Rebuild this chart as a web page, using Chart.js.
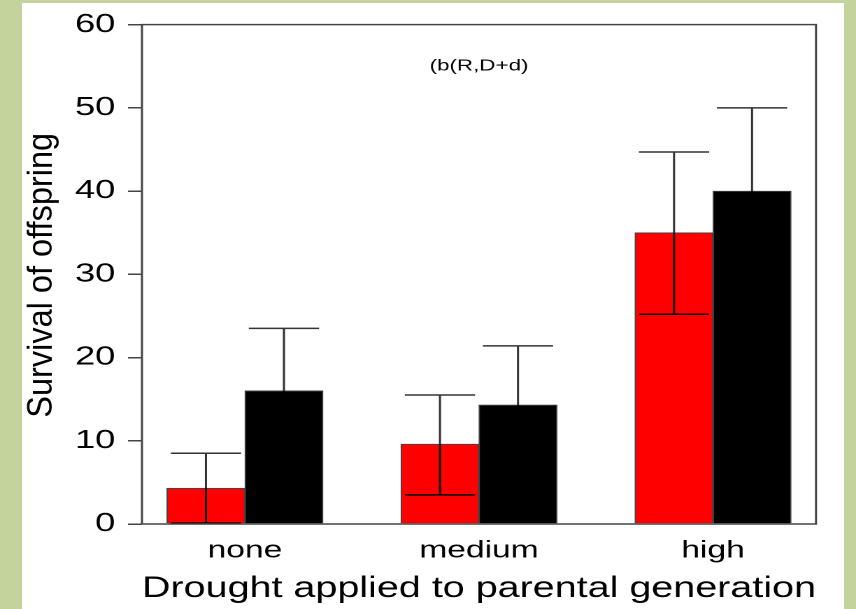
<!DOCTYPE html>
<html><head><meta charset="utf-8">
<script src="https://cdn.jsdelivr.net/npm/chart.js@4"></script>
<style>
html,body{margin:0;padding:0;background:#c3d39b;width:856px;height:609px;overflow:hidden;}
#panel{position:absolute;left:22px;top:3px;width:822px;height:606px;background:#fff;}
#wrap{position:absolute;left:0;top:0;width:612px;height:609px;transform:scaleX(1.39869);transform-origin:0 0;}
</style></head><body>
<div id="panel"></div>
<div id="wrap"><canvas id="c" width="612" height="609" style="width:612px;height:609px;display:block"></canvas></div>
<script>
// ---- data ----
const categories = ['none', 'medium', 'high'];
const seriesNames = ['red', 'black'];
const redMean  = [4.3, 9.6, 35.0];
const redLow   = [0.1, 3.5, 25.2];
const redHigh  = [8.5, 15.5, 44.7];
const blackMean = [16.0, 14.3, 40.0];
const blackLow  = [8.5, 7.2, 30.0];
const blackHigh = [23.5, 21.4, 50.0];
const yTicks = [0, 10, 20, 30, 40, 50, 60];
const annotationText = '(b(R,D+d)';
const xTitle = 'Drought applied to parental generation';
const yTitle = 'Survival of offspring';

const FONT = '"Liberation Sans", Arial, sans-serif';
Chart.defaults.font.family = FONT;
Chart.defaults.color = '#000';

// bar-group layout in x units (R barplot style: bar width 1, one gap per group)
const groupCenter = i => 3 * i + 2;
const barX = (i, s) => groupCenter(i) - 0.5 + s;

const means = [redMean, blackMean];
const lows = [redLow, blackLow];
const highs = [redHigh, blackHigh];
const colors = ['#ff0000', '#000000'];

const datasets = means.map((m, s) => ({
  label: seriesNames[s],
  data: m.map((v, i) => ({x: barX(i, s), y: v})),
  backgroundColor: colors[s],
  borderColor: '#444',
  borderWidth: 1,
  grouped: false,
  barPercentage: 1,
  categoryPercentage: 1
}));

const errorBars = {
  id: 'errorBars',
  afterDatasetsDraw(chart) {
    const {ctx, scales: {x, y}} = chart;
    ctx.save();
    ctx.lineWidth = 1.5;
    means.forEach((m, s) => {
      m.forEach((v, i) => {
        const cx = x.getPixelForValue(barX(i, s));
        const hw = (x.getPixelForValue(0.45) - x.getPixelForValue(0));
        const ym = y.getPixelForValue(v);
        const yl = y.getPixelForValue(lows[s][i]);
        const yh = y.getPixelForValue(highs[s][i]);
        ctx.strokeStyle = '#000';
        ctx.beginPath();
        ctx.moveTo(cx, ym); ctx.lineTo(cx, yl);
        ctx.moveTo(cx - hw, yl); ctx.lineTo(cx + hw, yl);
        ctx.stroke();
        ctx.strokeStyle = '#333';
        ctx.beginPath();
        ctx.moveTo(cx, ym); ctx.lineTo(cx, yh);
        ctx.moveTo(cx - hw, yh); ctx.lineTo(cx + hw, yh);
        ctx.stroke();
      });
    });
    ctx.restore();
  }
};

const frameAndNote = {
  id: 'frameAndNote',
  afterDraw(chart) {
    const {ctx, chartArea: a, scales: {x, y}} = chart;
    ctx.save();
    ctx.strokeStyle = '#444';
    ctx.lineWidth = 1.5;
    ctx.strokeRect(a.left, a.top, a.right - a.left, a.bottom - a.top);
    ctx.fillStyle = '#000';
    ctx.font = '16px ' + FONT;
    ctx.textAlign = 'center';
    ctx.textBaseline = 'middle';
    ctx.fillText(annotationText, x.getPixelForValue(groupCenter(1)), y.getPixelForValue(55));
    // y-axis title (rotated; widened along the reading direction to undo the page stretch)
    ctx.translate(37.2, (a.top + a.bottom) / 2 + 1);
    ctx.rotate(-Math.PI / 2);
    ctx.scale(1.3, 1);
    ctx.font = '25px ' + FONT;
    ctx.textBaseline = 'alphabetic';
    ctx.fillText(yTitle, 0, 0);
    ctx.restore();
  }
};

new Chart(document.getElementById('c'), {
  type: 'bar',
  data: {datasets},
  options: {
    responsive: false,
    devicePixelRatio: 2,
    animation: false,
    layout: {padding: {left: 0, top: 23, right: 28.6, bottom: 0}},
    plugins: {legend: {display: false}, tooltip: {enabled: false}},
    scales: {
      x: {
        type: 'linear',
        offset: false,
        bounds: 'ticks',
        min: 0.68, max: 9.32,
        grid: {display: false, drawTicks: false, offset: false},
        border: {display: false},
        afterBuildTicks: s => { s.ticks = categories.map((c, i) => ({value: groupCenter(i)})); },
        afterFit: s => { s.height = 85; },
        ticks: {
          autoSkip: false,
          maxRotation: 0,
          padding: 12.3,
          font: {size: 24},
          color: '#000',
          callback: v => categories[categories.findIndex((c, i) => groupCenter(i) === v)]
        },
        title: {display: true, text: xTitle, font: {size: 29.6}, color: '#000', padding: {top: 0, bottom: 2.4}}
      },
      y: {
        min: 0, max: 60,
        afterBuildTicks: s => { s.ticks = yTicks.map(v => ({value: v})); },
        afterFit: s => { s.width = 101.5; },
        grid: {display: true, drawOnChartArea: false, drawTicks: true, tickLength: 10, color: '#444', lineWidth: 1.5},
        border: {display: false},
        ticks: {padding: 9, font: {size: 26}, color: '#000'},
        title: {display: false, text: yTitle}
      }
    }
  },
  plugins: [errorBars, frameAndNote]
});
</script>
</body></html>
